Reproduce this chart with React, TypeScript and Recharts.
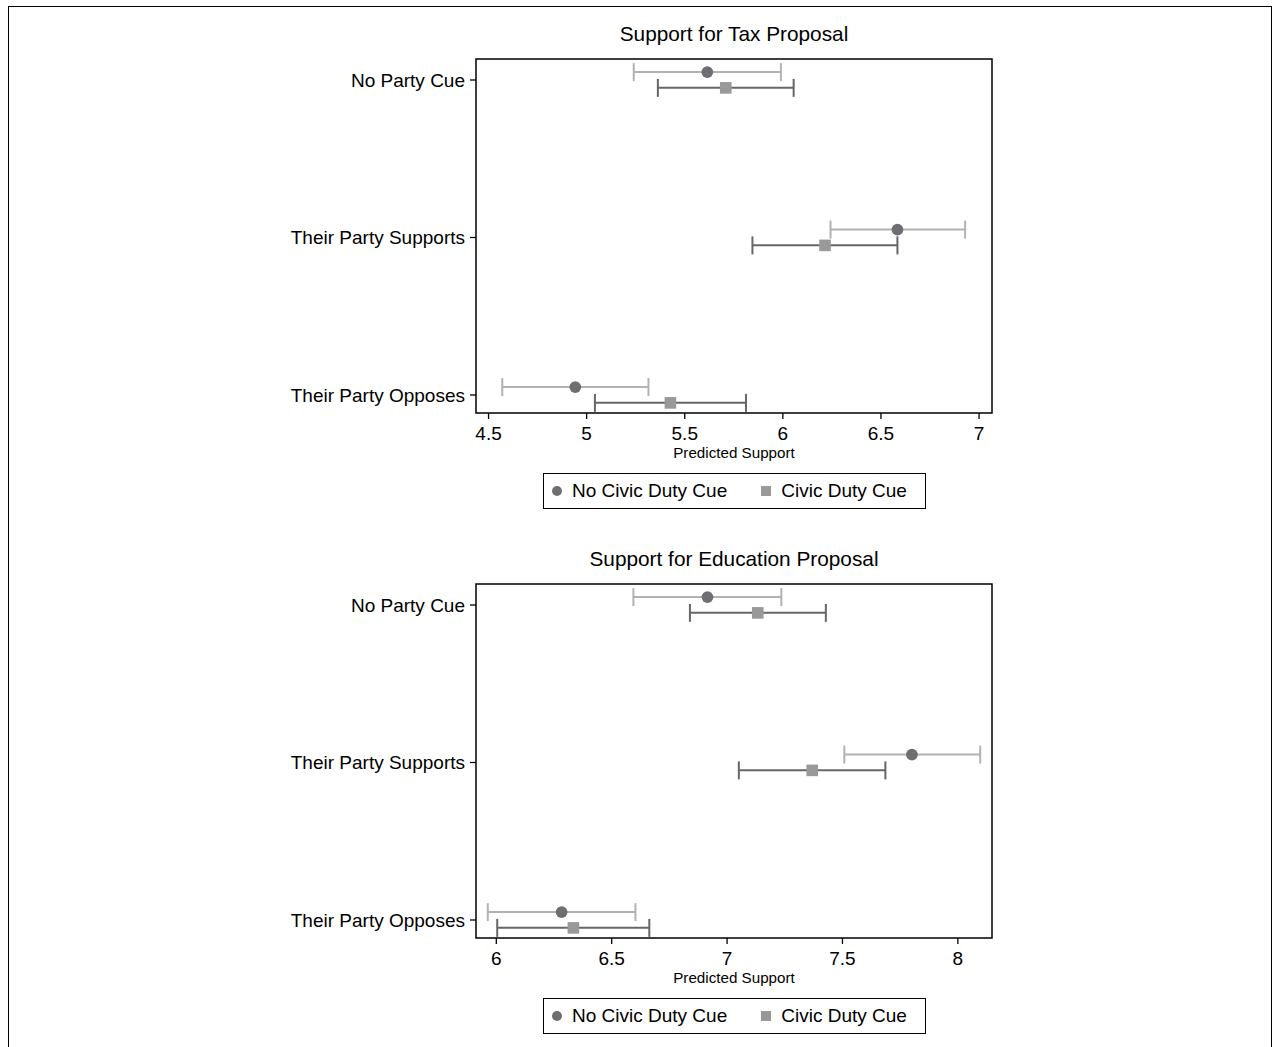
import React from 'react';
import {
  ScatterChart,
  Scatter,
  XAxis,
  YAxis,
  ErrorBar,
  ReferenceArea,
  Legend,
} from 'recharts';

// rows, top to bottom (y positions 3, 2, 1)
const categories = ['No Party Cue', 'Their Party Supports', 'Their Party Opposes'];
const seriesNames = ['No Civic Duty Cue', 'Civic Duty Cue'];

// Support for Tax Proposal
const taxNoCue = [5.615, 6.584, 4.942];
const taxNoCueLo = [5.24, 6.243, 4.57];
const taxNoCueHi = [5.99, 6.929, 5.315];
const taxCue = [5.709, 6.215, 5.427];
const taxCueLo = [5.363, 5.845, 5.042];
const taxCueHi = [6.055, 6.584, 5.812];
const taxTicks = [4.5, 5, 5.5, 6, 6.5, 7];

// Support for Education Proposal
const eduNoCue = [6.915, 7.801, 6.283];
const eduNoCueLo = [6.594, 7.508, 5.963];
const eduNoCueHi = [7.235, 8.097, 6.603];
const eduCue = [7.133, 7.369, 6.334];
const eduCueLo = [6.839, 7.051, 6.004];
const eduCueHi = [7.428, 7.686, 6.663];
const eduTicks = [6, 6.5, 7, 7.5, 8];

const FONT = '"Liberation Sans", Arial, Helvetica, sans-serif';
const DOT = '#6f6f73';
const SQUARE = '#999999';
const LIGHT_BAR = '#b2b2b2';
const DARK_BAR = '#666666';
const DODGE = 0.05;

const build = (vals: number[], lo: number[], hi: number[], shift: number) =>
  vals.map((v, i) => ({
    x: v,
    y: categories.length - i + shift,
    err: [v - lo[i], hi[i] - v],
  }));

const Dot = (p: any) => <circle cx={p.cx} cy={p.cy} r={5.9} fill={DOT} />;
const Sq = (p: any) => <rect x={p.cx - 5.8} y={p.cy - 5.8} width={11.6} height={11.6} fill={SQUARE} />;
const NoMark = () => null;

const LegendBox = () => (
  <div
    style={{
      boxSizing: 'border-box',
      width: 383,
      height: 36,
      border: '1.5px solid #000',
      display: 'flex',
      alignItems: 'center',
      fontFamily: FONT,
      fontSize: 19,
      color: '#000',
      background: '#fff',
    }}
  >
    <svg width={12} height={12} style={{ marginLeft: 7 }}>
      <circle cx={6} cy={6} r={5} fill={DOT} />
    </svg>
    <span style={{ marginLeft: 9 }}>{seriesNames[0]}</span>
    <svg width={12} height={12} style={{ marginLeft: 33 }}>
      <rect x={1} y={1} width={10} height={10} fill={SQUARE} />
    </svg>
    <span style={{ marginLeft: 9 }}>{seriesNames[1]}</span>
  </div>
);

type Row = { x: number; y: number; err: number[] };

type PanelProps = {
  title: string;
  top: number;
  noCue: Row[];
  cue: Row[];
  domain: [number, number];
  ticks: number[];
};

const Y_DOMAIN: [number, number] = [0.8857, 3.1333];

function Panel({ title, top, noCue, cue, domain, ticks }: PanelProps) {
  return (
    <div style={{ position: 'absolute', left: 0, top, width: 1273, height: 525 }}>
      <div
        style={{
          position: 'absolute',
          left: 476,
          width: 516,
          top: 21,
          textAlign: 'center',
          fontFamily: FONT,
          fontSize: 20.8,
          lineHeight: '26px',
          color: '#000',
        }}
      >
        {title}
      </div>
      <ScatterChart width={1273} height={525} margin={{ top: 59, right: 281, bottom: 52, left: 276 }}>
        <XAxis
          type="number"
          dataKey="x"
          domain={domain}
          ticks={ticks}
          allowDataOverflow
          axisLine={false}
          tickSize={6}
          tickMargin={8}
          height={60}
          tickLine={{ stroke: '#000', strokeWidth: 1.3 }}
          tick={{ fill: '#000', fontSize: 19, fontFamily: FONT }}
          label={{
            value: 'Predicted Support',
            position: 'insideBottom',
            offset: 15,
            fill: '#000',
            fontSize: 15.2,
            fontFamily: FONT,
          }}
        />
        <YAxis
          type="number"
          dataKey="y"
          domain={Y_DOMAIN}
          ticks={[3, 2, 1]}
          allowDataOverflow
          width={200}
          axisLine={false}
          tickSize={6}
          tickMargin={5}
          tickLine={{ stroke: '#000', strokeWidth: 1.3 }}
          tickFormatter={(v: number) => categories[categories.length - v] ?? ''}
          tick={{ fill: '#000', fontSize: 19, fontFamily: FONT }}
        />
        <ReferenceArea
          x1={domain[0]}
          x2={domain[1]}
          y1={Y_DOMAIN[0]}
          y2={Y_DOMAIN[1]}
          fill="none"
          stroke="#000"
          strokeWidth={1.5}
          ifOverflow="visible"
        />
        {/* confidence intervals first so the markers sit on top */}
        <Scatter data={noCue} shape={NoMark} legendType="none" isAnimationActive={false}>
          <ErrorBar dataKey="err" direction="x" width={9} stroke={LIGHT_BAR} strokeWidth={2} />
        </Scatter>
        <Scatter data={cue} shape={NoMark} legendType="none" isAnimationActive={false}>
          <ErrorBar dataKey="err" direction="x" width={9} stroke={DARK_BAR} strokeWidth={2} />
        </Scatter>
        <Scatter name={seriesNames[0]} data={noCue} shape={Dot} isAnimationActive={false} />
        <Scatter name={seriesNames[1]} data={cue} shape={Sq} isAnimationActive={false} />
        <Legend
          layout="horizontal"
          align="center"
          verticalAlign="middle"
          content={() => <LegendBox />}
          wrapperStyle={{ left: 543, top: 473, width: 383, height: 36 }}
        />
      </ScatterChart>
    </div>
  );
}

export default function App() {
  return (
    <div style={{ position: 'absolute', left: 0, top: 0, width: 1273, height: 1047, background: '#fff', overflow: 'hidden' }}>
      <div
        style={{
          position: 'absolute',
          left: 8,
          top: 6,
          width: 1264,
          height: 1080,
          boxSizing: 'border-box',
          border: '1.5px solid #000',
        }}
      />
      <Panel
        title="Support for Tax Proposal"
        top={0}
        noCue={build(taxNoCue, taxNoCueLo, taxNoCueHi, DODGE)}
        cue={build(taxCue, taxCueLo, taxCueHi, -DODGE)}
        domain={[4.436, 7.066]}
        ticks={taxTicks}
      />
      <Panel
        title="Support for Education Proposal"
        top={525}
        noCue={build(eduNoCue, eduNoCueLo, eduNoCueHi, DODGE)}
        cue={build(eduCue, eduCueLo, eduCueHi, -DODGE)}
        domain={[5.912, 8.148]}
        ticks={eduTicks}
      />
    </div>
  );
}
